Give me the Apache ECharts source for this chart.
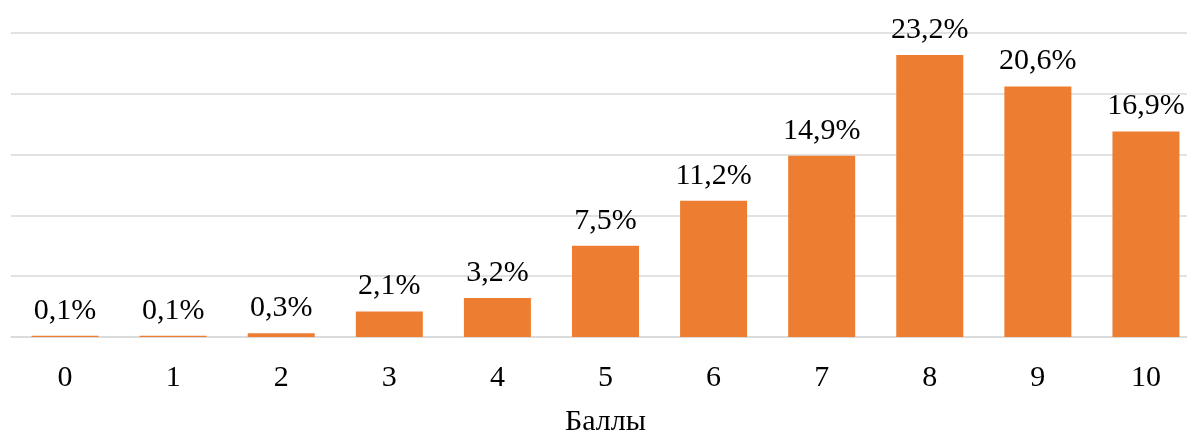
<!DOCTYPE html>
<html>
<head>
<meta charset="utf-8">
<script src="https://cdn.jsdelivr.net/npm/echarts@6/dist/echarts.min.js"></script>
<style>
  html, body { margin: 0; padding: 0; background: #fff; }
  #chart { width: 1187px; height: 430px; }
</style>
</head>
<body>
<div id="chart"></div>
<script>
// Распределение оценок по баллам (0–10), доля в процентах
const categories = ['0', '1', '2', '3', '4', '5', '6', '7', '8', '9', '10'];
const shares = [0.1, 0.1, 0.3, 2.1, 3.2, 7.5, 11.2, 14.9, 23.2, 20.6, 16.9];
const axisTitle = 'Баллы';

const chart = echarts.init(document.getElementById('chart'), null, { renderer: 'canvas' });
const font = '"Liberation Serif", "Times New Roman", serif';

chart.setOption({
  animation: false,
  textStyle: { fontFamily: font },
  grid: { left: 11, width: 1189, top: 33, height: 304, containLabel: false, outerBoundsMode: 'none' },
  xAxis: {
    type: 'category',
    data: categories,
    name: axisTitle,
    nameLocation: 'middle',
    nameGap: 70,
    nameTextStyle: { fontFamily: font, fontSize: 30, color: '#000' },
    axisLine: { show: true, lineStyle: { color: '#d9d9d9', width: 1.5 } },
    axisTick: { show: false },
    axisLabel: { fontFamily: font, fontSize: 30, color: '#000', margin: 26 }
  },
  yAxis: {
    type: 'value',
    min: 0,
    max: 25,
    interval: 5,
    axisLabel: { show: false },
    axisLine: { show: false },
    axisTick: { show: false },
    splitLine: { lineStyle: { color: '#d9d9d9', width: 1.5 } }
  },
  series: [{
    type: 'bar',
    data: shares,
    barWidth: 67,
    itemStyle: { color: '#ED7D31' },
    label: {
      show: true,
      position: 'top',
      distance: 10,
      fontFamily: font,
      fontSize: 30,
      color: '#000',
      formatter: p => String(p.value).replace('.', ',') + '%'
    }
  }]
});
</script>
</body>
</html>
